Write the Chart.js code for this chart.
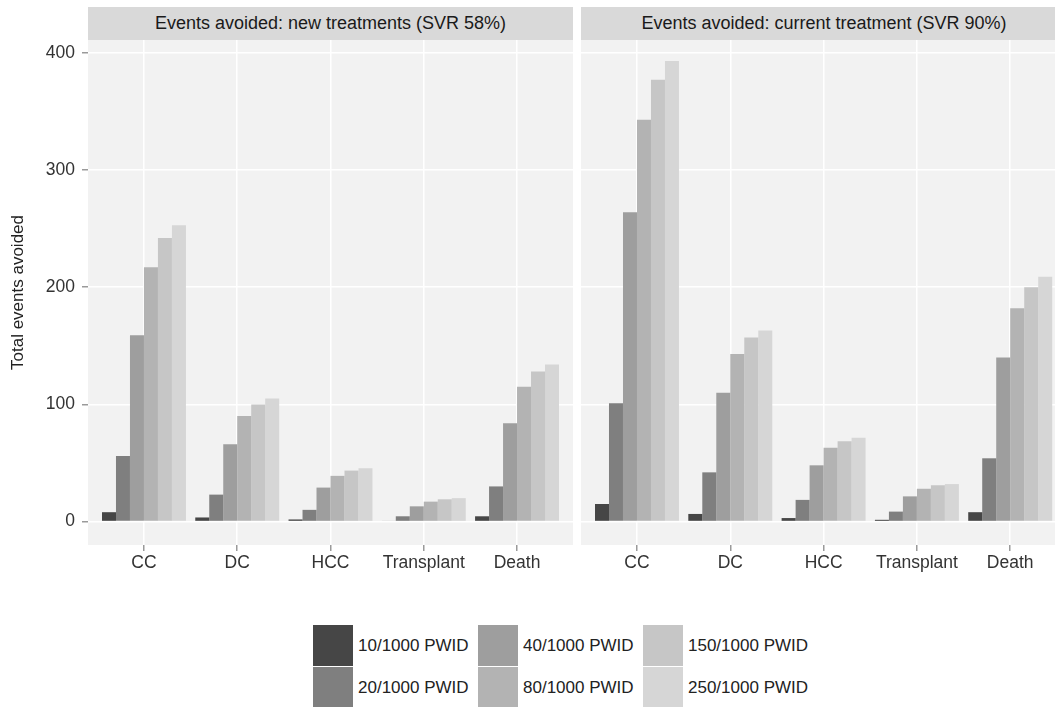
<!DOCTYPE html>
<html>
<head>
<meta charset="utf-8">
<script src="https://cdn.jsdelivr.net/npm/chart.js@4.4.1/dist/chart.umd.min.js"></script>
<style>
  body { margin: 0; background: #fff; width: 1055px; height: 707px; overflow: hidden; position: relative;
         font-family: 'Liberation Sans', Arial, sans-serif; }
  .box { position: absolute; }
  .strip { position: absolute; top: 7px; height: 33px; line-height: 33px; background: #d9d9d9;
           text-align: center; font-size: 18px; color: #1a1a1a; box-sizing: border-box; white-space: nowrap; overflow: hidden; }
  #legend { position: absolute; left: 313px; top: 625px; }
  .key { position: absolute; width: 40px; height: 41px; }
  .ltxt { position: absolute; font-size: 17px; color: #222; line-height: 41px; white-space: nowrap; }
</style>
</head>
<body>
<div class="strip" style="left:88px; width:485px;">Events avoided: new treatments (SVR 58%)</div>
<div class="strip" style="left:581px; width:474px; padding-left:12px;">Events avoided: current treatment (SVR 90%)</div>
<div class="box" style="left:0; top:0; width:573px; height:585px;"><canvas id="leftChart"></canvas></div>
<div class="box" style="left:581px; top:0; width:474px; height:585px;"><canvas id="rightChart"></canvas></div>
<div id="legend"></div>
<script>
const categories = ['CC', 'DC', 'HCC', 'Transplant', 'Death'];
const seriesNames = ['10/1000 PWID', '20/1000 PWID', '40/1000 PWID', '80/1000 PWID', '150/1000 PWID', '250/1000 PWID'];
const seriesColors = ['#464646', '#7f7f7f', '#9e9e9e', '#b3b3b3', '#c6c6c6', '#d6d6d6'];
const yTicks = [0, 100, 200, 300, 400];

// new treatments (SVR 58%)
const newTreat10 = [8, 3.5, 1.8, 0.6, 4.5];
const newTreat20 = [56, 23, 10, 4.5, 30];
const newTreat40 = [159, 66, 29, 13, 84];
const newTreat80 = [217, 90, 39, 17, 115];
const newTreat150 = [242, 100, 43.5, 19, 128];
const newTreat250 = [253, 105, 45.5, 20, 134];

// current treatment (SVR 90%)
const curTreat10 = [15, 6.5, 3, 1.5, 8];
const curTreat20 = [101, 42, 18.5, 8.5, 54];
const curTreat40 = [264, 110, 48, 21.5, 140];
const curTreat80 = [343, 143, 63, 28, 182];
const curTreat150 = [377, 157, 68.5, 31, 200];
const curTreat250 = [393, 163, 71.5, 32, 209];

const newSeries = [newTreat10, newTreat20, newTreat40, newTreat80, newTreat150, newTreat250];
const curSeries = [curTreat10, curTreat20, curTreat40, curTreat80, curTreat150, curTreat250];

Chart.defaults.font.family = "'Liberation Sans', Arial, sans-serif";
Chart.defaults.animation = false;

const panelBg = {
    id: 'panelBg',
    beforeDraw(chart) {
        const a = chart.chartArea;
        const ctx = chart.ctx;
        ctx.save();
        ctx.fillStyle = '#f2f2f2';
        ctx.fillRect(a.left, a.top, a.right - a.left, a.bottom - a.top);
        ctx.restore();
    }
};

function makeDatasets(series) {
    return series.map((vals, i) => ({
        label: seriesNames[i],
        data: vals.map((v, j) => ({ x: j, y: v })),
        backgroundColor: seriesColors[i],
        borderWidth: 0,
        categoryPercentage: 0.9,
        barPercentage: 1.0
    }));
}

function chartOptions(showY, xMax) {
    return {
        responsive: true,
        maintainAspectRatio: false,
        layout: { padding: { top: 40, left: 0, right: 0, bottom: 0 } },
        plugins: { legend: { display: false }, tooltip: { enabled: false } },
        scales: {
            x: {
                type: 'linear',
                min: -0.6,
                max: xMax,
                offset: false,
                afterBuildTicks: s => { s.ticks = categories.map((c, i) => ({ value: i })); },
                afterFit: s => { s.height = 40; },
                ticks: {
                    callback: v => categories[v],
                    color: '#333',
                    font: { size: 17.5 },
                    padding: 2,
                    maxRotation: 0,
                    autoSkip: false
                },
                grid: { offset: false, color: '#ffffff', lineWidth: 1.5, tickColor: '#9a9a9a', tickLength: 6, tickWidth: 1.5 },
                border: { display: false }
            },
            y: {
                min: -20,
                max: 411,
                afterBuildTicks: s => { s.ticks = yTicks.map(v => ({ value: v })); },
                afterFit: s => { s.width = showY ? 88 : 0; },
                ticks: { display: showY, color: '#333', font: { size: 17.5 }, padding: 7 },
                grid: { color: '#ffffff', lineWidth: 1.5, tickColor: '#9a9a9a', tickLength: 6, tickWidth: 1.5, drawTicks: showY },
                border: { display: false },
                title: {
                    display: showY,
                    text: 'Total events avoided',
                    color: '#222',
                    font: { size: 17 },
                    padding: { top: 8, bottom: 0 }
                }
            }
        }
    };
}

new Chart(document.getElementById('leftChart').getContext('2d'), {
    type: 'bar',
    data: { datasets: makeDatasets(newSeries) },
    options: chartOptions(true, 4.6),
    plugins: [panelBg]
});

new Chart(document.getElementById('rightChart').getContext('2d'), {
    type: 'bar',
    data: { datasets: makeDatasets(curSeries) },
    options: chartOptions(false, 4.48),
    plugins: [panelBg]
});

// legend, filled column by column (2 rows)
const legend = document.getElementById('legend');
seriesNames.forEach((name, i) => {
    const col = Math.floor(i / 2);
    const row = i % 2;
    const key = document.createElement('div');
    key.className = 'key';
    key.style.left = (col * 165) + 'px';
    key.style.top = (row * 42) + 'px';
    key.style.background = seriesColors[i];
    legend.appendChild(key);
    const txt = document.createElement('div');
    txt.className = 'ltxt';
    txt.style.left = (col * 165 + 45) + 'px';
    txt.style.top = (row * 42) + 'px';
    txt.textContent = name;
    legend.appendChild(txt);
});
</script>
</body>
</html>
